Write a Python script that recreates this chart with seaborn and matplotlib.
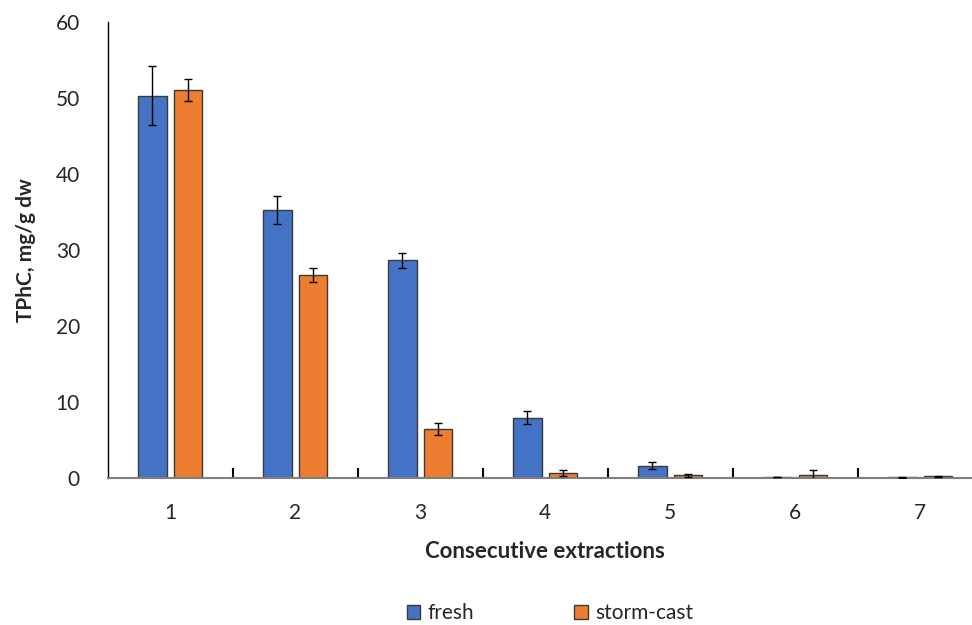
import matplotlib
matplotlib.use("Agg")
import matplotlib.pyplot as plt
import seaborn as sns
import pandas as pd
import numpy as np

extractions = ["1", "2", "3", "4", "5", "6", "7"]
fresh = [50.3, 35.3, 28.6, 7.9, 1.6, 0.1, 0.05]
fresh_err = [3.85, 1.85, 1.05, 0.85, 0.5, 0.05, 0.03]
storm = [51.0, 26.7, 6.4, 0.65, 0.3, 0.3, 0.2]
storm_err = [1.45, 0.9, 0.8, 0.4, 0.2, 0.7, 0.05]
series = ["fresh", "storm-cast"]
colors = ["#4472C4", "#ED7D31"]

df = pd.DataFrame({
    "extraction": extractions * 2,
    "value": fresh + storm,
    "err": fresh_err + storm_err,
    "series": [series[0]] * 7 + [series[1]] * 7,
})

sns.set_style("white")
plt.rcParams["font.family"] = ["Lato", "DejaVu Sans"]

fig = plt.figure(figsize=(9.72, 6.25), dpi=100)
ax = fig.add_axes([107.7 / 972, 1 - 477.7 / 625, 875 / 972, (477.7 - 22) / 625])

sns.barplot(data=df, x="extraction", y="value", hue="series", palette=colors,
            errorbar=None, width=0.572, gap=0.2, edgecolor="#3a3a3a",
            linewidth=1.0, ax=ax, legend=True, saturation=1)

for cont, errs in zip(ax.containers, [fresh_err, storm_err]):
    xs = [p.get_x() + p.get_width() / 2 for p in cont.patches]
    hs = [p.get_height() for p in cont.patches]
    ax.errorbar(xs, hs, yerr=errs, fmt="none", ecolor="black", elinewidth=1.0,
                capsize=3, capthick=1.0, zorder=5)

ax.set_xlim(-0.5, 6.5)
ax.set_ylim(0, 60)
ax.set_yticks(np.arange(0, 61, 10))
ax.set_xticks(np.arange(0.5, 6.5, 1.0))
ax.set_xticklabels([])
for i, lab in enumerate(extractions):
    ax.text(i, -0.055, lab, transform=ax.get_xaxis_transform(), ha="center", va="top", fontsize=15)

for s in ["top", "right"]:
    ax.spines[s].set_visible(False)
ax.spines["left"].set_color("black")
ax.spines["left"].set_linewidth(1.0)
ax.spines["bottom"].set_color("#7f7f7f")
ax.spines["bottom"].set_linewidth(1.5)
ax.tick_params(axis="y", direction="out", length=5, width=1.0, color="black", labelsize=15, pad=15)
ax.tick_params(axis="x", direction="in", length=7, width=1.5, color="black", bottom=True)

ax.set_xlabel("Consecutive extractions", fontsize=16, fontweight="bold", labelpad=42)
ax.set_ylabel("TPhC, mg/g dw", fontsize=15, fontweight="bold", labelpad=14)

ax.legend_.remove()
handles = [plt.Rectangle((0, 0), 1, 1, facecolor=c, edgecolor="#3a3a3a", linewidth=1.0) for c in colors]
fig.legend(handles, series, loc="center", bbox_to_anchor=(550 / 972, 1 - 613 / 625), ncol=2,
           frameon=False, fontsize=15, handlelength=0.65, handleheight=0.65, handletextpad=0.35,
           columnspacing=4.8, borderpad=0.1)

fig.savefig("out.png", dpi=100)
